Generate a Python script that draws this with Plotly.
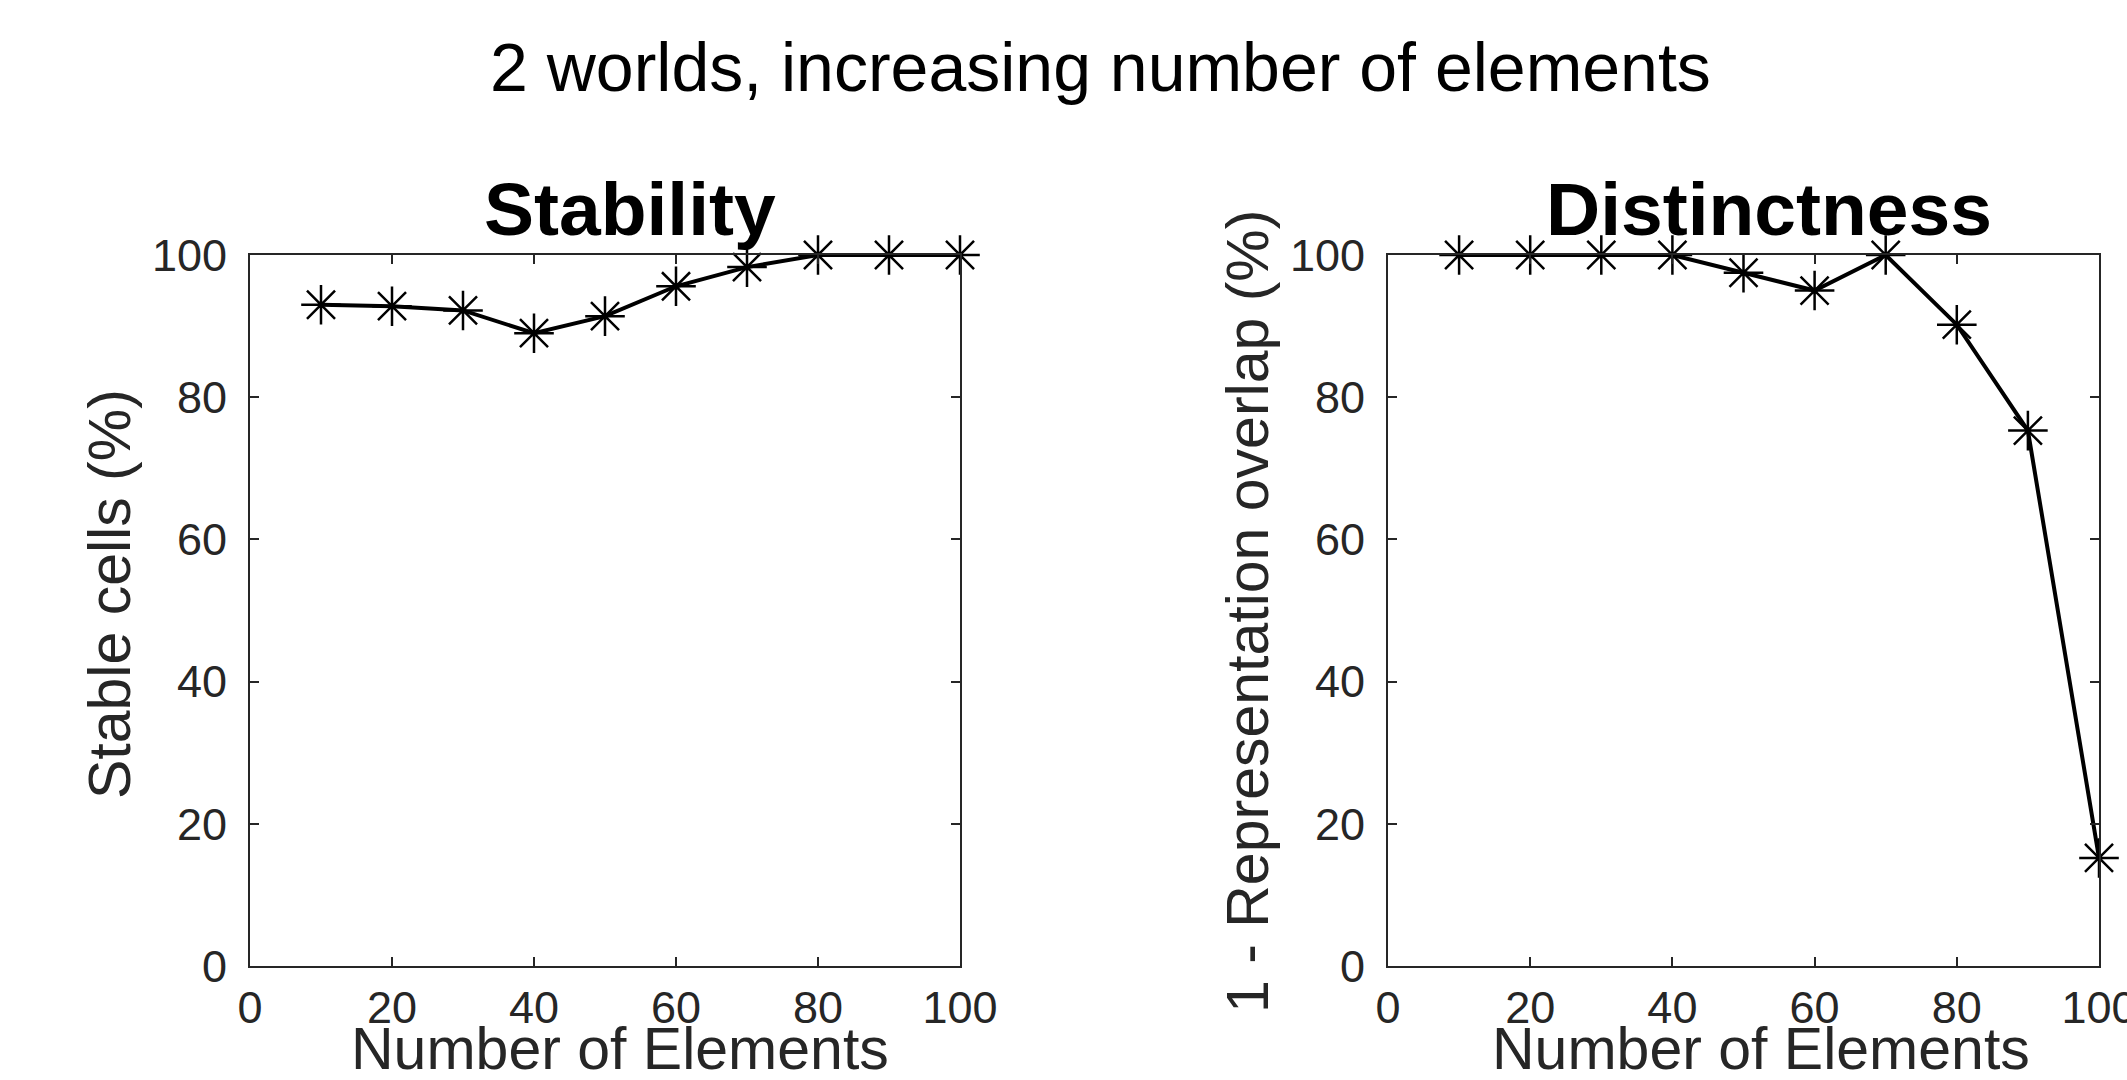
import plotly.graph_objects as go

W, H = 2127, 1080

num_elements = [10, 20, 30, 40, 50, 60, 70, 80, 90, 100]
stability = [93.0, 92.8, 92.2, 89.0, 91.4, 95.6, 98.3, 100.0, 100.0, 100.0]
distinctness = [100.0, 100.0, 100.0, 100.0, 97.5, 95.0, 100.0, 90.2, 75.3, 15.2]
tick_vals = [0, 20, 40, 60, 80, 100]

main_title = "2 worlds, increasing number of elements"
titles = ["Stability", "Distinctness"]
x_label = "Number of Elements"
y_labels = ["Stable cells (%)", "1 - Representation overlap (%)"]

FONT = "Liberation Sans, Arial, Helvetica, sans-serif"
AX = "#262626"

fig = go.Figure()
for i, vals in enumerate([stability, distinctness]):
    fig.add_trace(go.Scatter(
        x=num_elements, y=vals, mode="lines+markers",
        xaxis="x" if i == 0 else "x2", yaxis="y" if i == 0 else "y2",
        line=dict(color="black", width=4),
        marker=dict(symbol="asterisk-open", size=33, color="black",
                    line=dict(color="black", width=2.5)),
        cliponaxis=False, showlegend=False,
    ))

def xax(domain, anchor):
    return dict(domain=domain, anchor=anchor, range=[0, 100], tickvals=tick_vals,
                ticks="inside", ticklen=9, tickwidth=2, tickcolor=AX,
                showline=True, linecolor=AX, linewidth=2, mirror="ticks",
                showgrid=False, zeroline=False, ticklabelstandoff=1,
                automargin=False, ticklabeloverflow="allow",
                tickfont=dict(family=FONT, size=45, color=AX))

def yax(anchor):
    return dict(domain=[114 / H, 825 / H], anchor=anchor, range=[0, 100], tickvals=tick_vals,
                ticks="inside", ticklen=9, tickwidth=2, tickcolor=AX,
                showline=True, linecolor=AX, linewidth=2, mirror="ticks",
                showgrid=False, zeroline=False, ticklabelstandoff=12,
                automargin=False, ticklabeloverflow="allow",
                tickfont=dict(family=FONT, size=45, color=AX))

annotations = [
    dict(text=main_title, x=1100 / W, y=1 - 67 / H, xref="paper", yref="paper",
         showarrow=False, xanchor="center", yanchor="middle",
         font=dict(family=FONT, size=68, color="black")),
]
for cx, t in zip([630, 1769], titles):
    annotations.append(dict(text="<b>" + t + "</b>", x=cx / W, y=1 - 209 / H,
                            xref="paper", yref="paper", showarrow=False,
                            xanchor="center", yanchor="middle",
                            font=dict(family=FONT, size=75, color="black")))
for cx in [620, 1761]:
    annotations.append(dict(text=x_label, x=cx / W, y=1 - 1049 / H,
                            xref="paper", yref="paper", showarrow=False,
                            xanchor="center", yanchor="middle",
                            font=dict(family=FONT, size=59, color=AX)))
for cx, cy, t in zip([110, 1248], [594, 612], y_labels):
    annotations.append(dict(text=t, x=cx / W, y=1 - cy / H, textangle=-90,
                            xref="paper", yref="paper", showarrow=False,
                            xanchor="center", yanchor="middle",
                            font=dict(family=FONT, size=59, color=AX)))

fig.update_layout(
    width=W, height=H, margin=dict(l=0, r=0, t=0, b=0, autoexpand=False),
    paper_bgcolor="white", plot_bgcolor="white",
    xaxis=xax([250 / W, 960 / W], "y"),
    yaxis=yax("x"),
    xaxis2=xax([1388 / W, 2099 / W], "y2"),
    yaxis2=yax("x2"),
    annotations=annotations,
)

fig.write_html("out.html")
